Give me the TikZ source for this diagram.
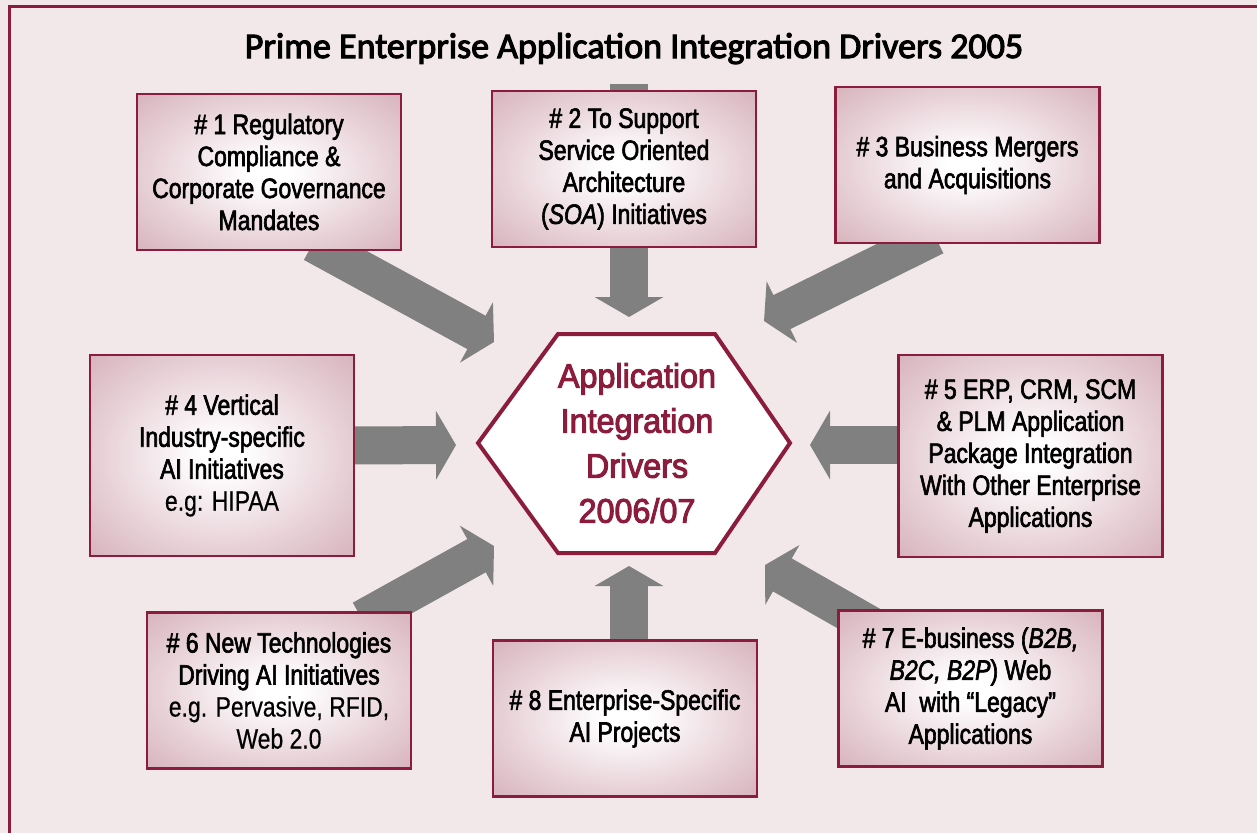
\documentclass[tikz,border=0pt]{standalone}
\usepackage{fontspec}
\setmainfont{Liberation Sans}[FakeStretch=0.82,FakeBold=2.2]
\newfontfamily\egfont{Liberation Sans}[FakeStretch=0.82,FakeBold=0.5]
\newfontfamily\titlefont{Carlito}[FakeBold=3]
\newfontfamily\hexfont{Liberation Sans}[FakeStretch=0.95,FakeBold=3]
\usetikzlibrary{arrows.meta}

\definecolor{drvred}{RGB}{140,28,60}
\definecolor{boxpink}{RGB}{216,180,190}
\definecolor{pagebg}{RGB}{242,232,234}
\definecolor{arrowgray}{RGB}{128,128,128}
\pgfdeclareradialshading{boxshade}{\pgfpoint{0bp}{0bp}}{color(0bp)=(white); color(4bp)=(white); color(35bp)=(boxpink); color(50bp)=(boxpink)}
\pgfdeclarelayer{backdrop}
\pgfdeclarelayer{shafts}
\pgfsetlayers{backdrop,shafts,main}

\begin{document}
\begin{tikzpicture}[x=1pt,y=-1pt,
	driver/.style={draw=drvred, line width=2.5pt, shade, shading=boxshade, align=center,
		minimum width=264pt, minimum height=156pt, inner sep=0pt, font=\fontsize{28}{32}\selectfont},
	bigarrow/.style={draw=arrowgray, line width=38pt, -{Triangle[length=20pt,width=68pt]}}]
	\useasboundingbox (0,0) rectangle (1257,833);
	\begin{pgfonlayer}{backdrop}
		\fill[pagebg] (0,0) rectangle (1257,833);
	\end{pgfonlayer}
	\draw[drvred, line width=3pt] (9.5,833) -- (9.5,6.5) -- (1257,6.5);
	\node[anchor=base, font=\titlefont\fontsize{36}{40}\selectfont] (title) at (634,58) {Prime Enterprise Application Integration Drivers 2005};
	% the eight drivers
	\node[driver] (b1) at (269,172) {\# 1 Regulatory\\Compliance \&\\Corporate Governance\\Mandates};
	\node[driver] (b2) at (624,169) {\# 2 To Support\\Service Oriented\\Architecture\\(\textit{SOA}) Initiatives};
	\node[driver] (b3) at (967.5,165) {\# 3 Business Mergers\\and Acquisitions};
	\node[driver, minimum height=201pt] (b4) at (222,455.5) {\# 4 Vertical\\Industry-specific\\AI Initiatives\\{\egfont e.g: HIPAA}};
	\node[driver, minimum height=202pt] (b5) at (1030.5,456) {\# 5 ERP, CRM, SCM\\\& PLM Application\\Package Integration\\With Other Enterprise\\Applications};
	\node[driver] (b6) at (279,690.5) {\# 6 New Technologies\\Driving AI Initiatives\\{\egfont e.g. Pervasive, RFID,}\\{\egfont Web 2.0}};
	\node[driver] (b7) at (970.5,688.5) {\# 7 E-business (\textit{B2B,}\\\textit{B2C, B2P}) Web\\AI\ \ with “Legacy”\\Applications};
	\node[driver] (b8) at (625,718.5) {\# 8 Enterprise-Specific\\AI Projects};
	% centre
	\draw[drvred, line width=4pt, fill=white] (478,443) -- (558,334) -- (715,334) -- (790,443) -- (715,553) -- (558,553) -- cycle;
	\node[drvred, align=center, font=\hexfont\fontsize{34}{45}\selectfont] (hex) at (637,443) {Application\\Integration\\Drivers\\2006/07};
	\coordinate (t1) at (494,342);
	\coordinate (t2) at (629,317);
	\coordinate (t3) at (764,321);
	\coordinate (t4) at (456,445);
	\coordinate (t5) at (810,445);
	\coordinate (t6) at (494,546);
	\coordinate (t7) at (765,565);
	\coordinate (t8) at (629,566);
	\begin{pgfonlayer}{shafts}
		\draw[bigarrow] ([xshift=44pt,yshift=8pt]b1.south) -- (t1);
		\draw[bigarrow] ([xshift=5pt,yshift=6pt]b2.north) -- (t2);
		\draw[bigarrow] ([xshift=-32.5pt,yshift=8pt]b3.south) -- (t3);
		\draw[bigarrow] ([xshift=-10pt,yshift=10pt]b4.east) -- (t4);
		\draw[bigarrow] ([xshift=10pt,yshift=11pt]b5.west) -- (t5);
		\draw[bigarrow] ([xshift=83pt,yshift=-8pt]b6.north) -- (t6);
		\draw[bigarrow] ([xshift=-75.5pt,yshift=-30pt]b7.north) -- (t7);
		\draw[bigarrow] ([xshift=4pt,yshift=-10pt]b8.north) -- (t8);
	\end{pgfonlayer}
\end{tikzpicture}
\end{document}
